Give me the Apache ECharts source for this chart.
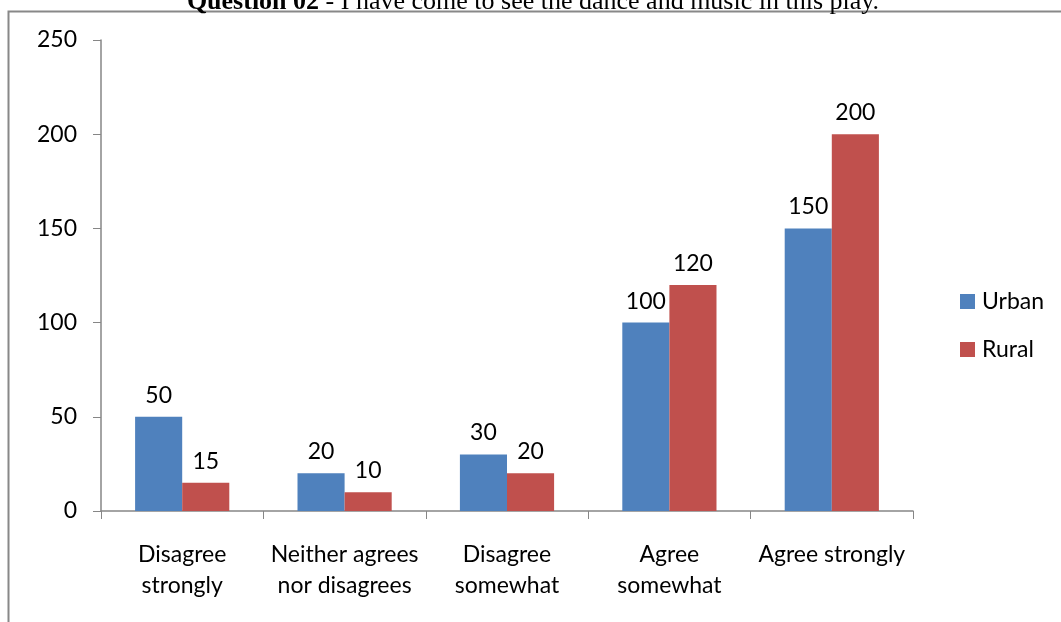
<!DOCTYPE html>
<html>
<head>
<meta charset="utf-8"/>
<script src="https://cdn.jsdelivr.net/npm/echarts@6/dist/echarts.min.js"></script>
<style>
html, body { margin: 0; padding: 0; background: #fff; }
#main { width: 1061px; height: 622px; }
</style>
</head>
<body>
<div id="main"></div>
<script>
// categories and values
var categories = ['Disagree\nstrongly', 'Neither agrees\nnor disagrees', 'Disagree\nsomewhat', 'Agree\nsomewhat', 'Agree strongly'];
var urban = [50, 20, 30, 100, 150];
var rural = [15, 10, 20, 120, 200];
var yTicks = [0, 50, 100, 150, 200, 250];

var chart = echarts.init(document.getElementById('main'));
var font = 'Lato, "Open Sans", sans-serif';

var labelStyle = {
    show: true,
    position: 'top',
    distance: 10,
    color: '#000',
    fontSize: 23,
    fontFamily: font
};

var option = {
    animation: false,
    grid: { left: 101, right: 148, top: 40, bottom: 111 },
    graphic: [
        {
            type: 'rect',
            shape: { x: 8.5, y: 11.5, width: 1200, height: 800 },
            style: { fill: 'none', stroke: '#888', lineWidth: 2 },
            silent: true
        },
        {
            type: 'text',
            x: 533, y: 15,
            style: {
                text: '{b|Question 02} - I have come to see the dance and music in this play.',
                textAlign: 'center',
                textVerticalAlign: 'bottom',
                font: '26px "Liberation Serif", serif',
                fill: '#000',
                rich: { b: { fontWeight: 'bold', fontSize: 26, fontFamily: '"Liberation Serif", serif' } }
            }
        }
    ],
    legend: {
        orient: 'vertical',
        left: 955,
        top: 285,
        itemWidth: 15,
        itemHeight: 15,
        itemGap: 25,
        icon: 'rect',
        textStyle: { fontSize: 23, fontFamily: font, color: '#000', padding: [0, 0, 0, 2] },
        data: ['Urban', 'Rural']
    },
    xAxis: {
        type: 'category',
        data: categories,
        axisLine: { lineStyle: { color: '#868686', width: 1.5 } },
        axisTick: { show: true, length: 8, lineStyle: { color: '#868686' } },
        axisLabel: { fontSize: 23, fontFamily: font, color: '#000', margin: 28, lineHeight: 31, interval: 0 }
    },
    yAxis: {
        type: 'value',
        min: 0,
        max: yTicks[yTicks.length - 1],
        interval: 50,
        splitLine: { show: false },
        axisLine: { show: true, lineStyle: { color: '#868686', width: 1.5 } },
        axisTick: { show: true, length: 8, lineStyle: { color: '#868686' } },
        axisLabel: { fontSize: 23, fontFamily: font, color: '#000', margin: 24 }
    },
    series: [
        {
            name: 'Urban',
            type: 'bar',
            data: urban,
            barGap: '0%',
            barCategoryGap: '42%',
            itemStyle: { color: '#4f81bd' },
            label: labelStyle
        },
        {
            name: 'Rural',
            type: 'bar',
            data: rural,
            itemStyle: { color: '#c0504d' },
            label: labelStyle
        }
    ]
};
chart.setOption(option);
</script>
</body>
</html>
